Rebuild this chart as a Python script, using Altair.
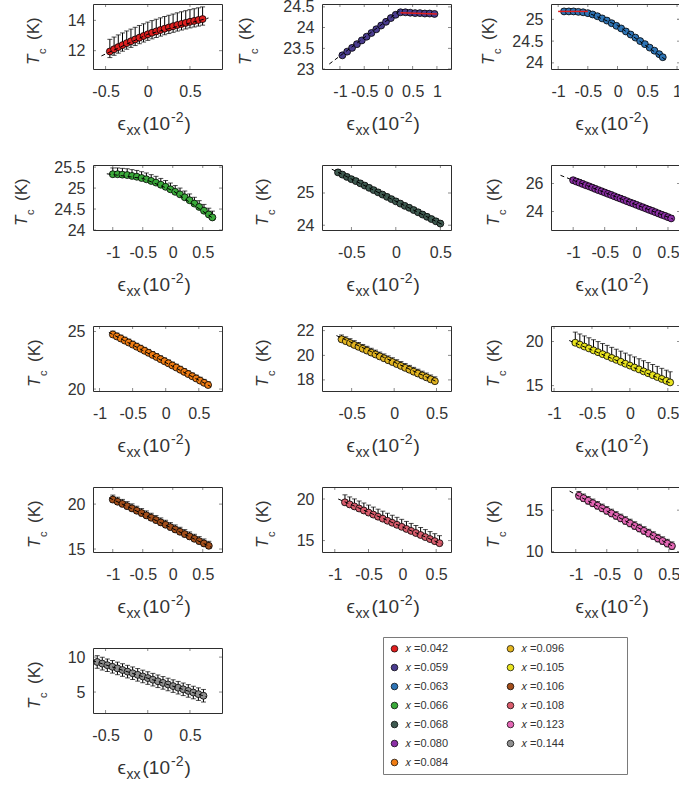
import altair as alt
import pandas as pd

FONT = "Liberation Sans"
INK = "#333333"
FRAME = "#2e2e2e"
PW, PH = 129, 65

doping = ["0.042", "0.059", "0.063", "0.066", "0.068", "0.080", "0.084",
          "0.096", "0.105", "0.106", "0.108", "0.123", "0.144"]
dot_colors = ["#e01f1f", "#4a3c8e", "#2e74b5", "#3aaa3a", "#3e5a50", "#8b2fa5", "#f07c12",
              "#e3b520", "#e9e41e", "#a34e1a", "#d95c6c", "#e366b4", "#8f8f8f"]

# strain eps_xx (10^-2) and Tc (K) for each composition
strain_042 = [-0.45, -0.40, -0.35, -0.30, -0.25, -0.20, -0.15, -0.10, -0.05, 0.00, 0.05, 0.10,
              0.15, 0.20, 0.25, 0.30, 0.35, 0.40, 0.45, 0.50, 0.55, 0.60, 0.65]
tc_042 = [11.95, 12.10, 12.24, 12.37, 12.50, 12.62, 12.74, 12.86, 12.97, 13.08, 13.18, 13.27,
          13.36, 13.45, 13.53, 13.61, 13.69, 13.76, 13.83, 13.90, 13.96, 14.02, 14.08]
fit_strain_042 = [-0.55, 0.00, 0.72]
fit_tc_042 = [11.66, 13.08, 14.15]

strain_059 = [-0.95, -0.85, -0.75, -0.65, -0.55, -0.45, -0.35, -0.25, -0.15, -0.05, 0.05, 0.15,
              0.25, 0.35, 0.45, 0.55, 0.65, 0.75, 0.85, 0.95]
tc_059 = [23.33, 23.42, 23.51, 23.60, 23.69, 23.78, 23.87, 23.96, 24.05, 24.14, 24.23, 24.31,
          24.37, 24.37, 24.36, 24.35, 24.35, 24.34, 24.34, 24.33]
fit_strain_059 = [-1.22, 0.25]
fit_tc_059 = [23.12, 24.42]
flat_strain_059 = [0.25, 1.00]
flat_tc_059 = [24.36, 24.33]

strain_063 = [-0.90, -0.82, -0.74, -0.66, -0.58, -0.50, -0.42, -0.34, -0.26, -0.18, -0.10, -0.02,
              0.06, 0.14, 0.22, 0.30, 0.38, 0.46, 0.54, 0.62, 0.70, 0.76]
tc_063 = [25.18, 25.18, 25.18, 25.17, 25.16, 25.14, 25.11, 25.07, 25.02, 24.97, 24.91, 24.85,
          24.79, 24.72, 24.65, 24.58, 24.50, 24.43, 24.35, 24.28, 24.20, 24.13]
fit_strain_063 = [-0.45, 0.00, 0.80]
fit_tc_063 = [25.12, 24.86, 24.08]
flat_strain_063 = [-1.00, -0.50]
flat_tc_063 = [25.18, 25.18]

strain_066 = [-1.00, -0.92, -0.84, -0.76, -0.68, -0.60, -0.52, -0.44, -0.36, -0.28, -0.20, -0.12,
              -0.04, 0.04, 0.12, 0.20, 0.28, 0.36, 0.44, 0.52, 0.60, 0.66]
tc_066 = [25.33, 25.33, 25.32, 25.31, 25.29, 25.27, 25.24, 25.21, 25.17, 25.13, 25.08, 25.03,
          24.97, 24.91, 24.85, 24.78, 24.71, 24.63, 24.55, 24.46, 24.37, 24.30]
fit_strain_066 = [-1.10, -0.50, 0.00, 0.70]
fit_tc_066 = [25.34, 25.23, 24.94, 24.25]

strain_068 = [-0.65, -0.60, -0.55, -0.50, -0.45, -0.40, -0.35, -0.30, -0.25, -0.20, -0.15, -0.10,
              -0.05, 0.00, 0.05, 0.10, 0.15, 0.20, 0.25, 0.30, 0.35, 0.40, 0.45, 0.50]
tc_068 = [25.64, 25.57, 25.50, 25.43, 25.37, 25.30, 25.23, 25.16, 25.09, 25.02, 24.95, 24.88,
          24.81, 24.74, 24.67, 24.60, 24.54, 24.47, 24.40, 24.33, 24.26, 24.19, 24.12, 24.05]
fit_strain_068 = [-0.72, 0.53]
fit_tc_068 = [25.74, 24.01]

strain_080 = [-1.00, -0.95, -0.90, -0.85, -0.80, -0.75, -0.70, -0.65, -0.60, -0.55, -0.50, -0.45,
              -0.40, -0.35, -0.30, -0.25, -0.20, -0.15, -0.10, -0.05, 0.00, 0.05, 0.10, 0.15,
              0.20, 0.25, 0.30, 0.35, 0.40, 0.45, 0.50, 0.55]
tc_080 = [26.22, 26.13, 26.05, 25.96, 25.87, 25.79, 25.70, 25.61, 25.52, 25.44, 25.35, 25.26,
          25.18, 25.09, 25.00, 24.92, 24.83, 24.74, 24.65, 24.57, 24.48, 24.39, 24.31, 24.22,
          24.13, 24.05, 23.96, 23.87, 23.78, 23.70, 23.61, 23.52]
fit_strain_080 = [-1.20, 0.58]
fit_tc_080 = [26.57, 23.47]

strain_084 = [-0.80, -0.74, -0.68, -0.62, -0.56, -0.50, -0.44, -0.38, -0.32, -0.26, -0.20, -0.14,
              -0.08, -0.02, 0.04, 0.10, 0.16, 0.22, 0.28, 0.34, 0.40, 0.46, 0.52, 0.58, 0.64]
tc_084 = [24.75, 24.58, 24.40, 24.22, 24.05, 23.87, 23.69, 23.51, 23.33, 23.15, 22.97, 22.79,
          22.60, 22.42, 22.24, 22.05, 21.87, 21.68, 21.49, 21.30, 21.11, 20.92, 20.73, 20.54, 20.35]
fit_strain_084 = [-0.86, 0.68]
fit_tc_084 = [24.93, 20.22]

strain_096 = [-0.62, -0.57, -0.52, -0.47, -0.42, -0.37, -0.32, -0.27, -0.22, -0.17, -0.12, -0.07,
              -0.02, 0.03, 0.08, 0.13, 0.18, 0.23, 0.28, 0.33, 0.38, 0.43, 0.48]
tc_096 = [21.30, 21.15, 21.00, 20.84, 20.69, 20.53, 20.38, 20.22, 20.07, 19.91, 19.76, 19.60,
          19.45, 19.29, 19.14, 18.98, 18.83, 18.67, 18.52, 18.36, 18.21, 18.05, 17.90]
fit_strain_096 = [-0.68, 0.52]
fit_tc_096 = [21.60, 17.80]

strain_105 = [-0.72, -0.66, -0.60, -0.54, -0.48, -0.42, -0.36, -0.30, -0.24, -0.18, -0.12, -0.06,
              0.00, 0.06, 0.12, 0.18, 0.24, 0.30, 0.36, 0.42, 0.48, 0.53]
tc_105 = [19.85, 19.64, 19.42, 19.21, 18.99, 18.78, 18.56, 18.35, 18.13, 17.92, 17.70, 17.48,
          17.27, 17.05, 16.84, 16.62, 16.41, 16.19, 15.98, 15.76, 15.55, 15.37]
fit_strain_105 = [-0.80, 0.56]
fit_tc_105 = [20.10, 15.20]

strain_106 = [-1.00, -0.92, -0.84, -0.76, -0.68, -0.60, -0.52, -0.44, -0.36, -0.28, -0.20, -0.12,
              -0.04, 0.04, 0.12, 0.20, 0.28, 0.36, 0.44, 0.52, 0.60]
tc_106 = [20.50, 20.26, 20.02, 19.77, 19.52, 19.26, 19.00, 18.74, 18.48, 18.22, 17.96, 17.70,
          17.44, 17.18, 16.92, 16.66, 16.40, 16.14, 15.88, 15.62, 15.36]
fit_strain_106 = [-1.06, 0.64]
fit_tc_106 = [20.70, 15.20]

strain_108 = [-0.85, -0.78, -0.71, -0.64, -0.57, -0.50, -0.43, -0.36, -0.29, -0.22, -0.15, -0.08,
              -0.01, 0.06, 0.13, 0.20, 0.27, 0.34, 0.41, 0.48, 0.55]
tc_108 = [19.60, 19.35, 19.11, 18.86, 18.62, 18.37, 18.13, 17.88, 17.64, 17.39, 17.15, 16.90,
          16.66, 16.41, 16.17, 15.92, 15.68, 15.43, 15.19, 14.94, 14.70]
fit_strain_108 = [-0.95, 0.58]
fit_tc_108 = [20.00, 14.60]

strain_123 = [-0.950, -0.875, -0.800, -0.725, -0.650, -0.575, -0.500, -0.425, -0.350, -0.275,
              -0.200, -0.125, -0.050, 0.025, 0.100, 0.175, 0.250, 0.325, 0.400, 0.475, 0.550]
tc_123 = [16.75, 16.45, 16.14, 15.84, 15.54, 15.23, 14.93, 14.62, 14.32, 14.02, 13.71, 13.41,
          13.10, 12.80, 12.50, 12.19, 11.89, 11.58, 11.28, 10.98, 10.67]
fit_strain_123 = [-1.10, 0.60]
fit_tc_123 = [17.30, 10.50]

strain_144 = [-0.60, -0.54, -0.48, -0.42, -0.36, -0.30, -0.24, -0.18, -0.12, -0.06, 0.00, 0.06,
              0.12, 0.18, 0.24, 0.30, 0.36, 0.42, 0.48, 0.54, 0.60, 0.66]
tc_144 = [9.30, 9.07, 8.84, 8.61, 8.38, 8.15, 7.92, 7.69, 7.46, 7.23, 7.00, 6.77,
          6.54, 6.31, 6.08, 5.85, 5.62, 5.39, 5.16, 4.93, 4.70, 4.47]
fit_strain_144 = [-0.66, 0.70]
fit_tc_144 = [9.50, 4.30]

# error bar half-widths (K), above and below each point
err_up = [0.80, 0.05, 0.05, 0.15, 0.08, 0.20, 0.30, 0.35, 1.20, 0.50, 0.90, 0.50, 0.90]
err_dn = [0.40, 0.05, 0.03, 0.03, 0.05, 0.10, 0.20, 0.20, 0.20, 0.30, 0.30, 0.40, 0.90]

# axis limits and tick values of every panel
strain_lim = [[-0.65, 0.88], [-1.37, 1.29], [-1.12, 1.05], [-1.33, 0.82], [-0.83, 0.62],
              [-1.35, 0.69], [-1.10, 0.85], [-0.85, 0.67], [-1.04, 0.66], [-1.33, 0.82],
              [-1.19, 0.72], [-1.40, 0.68], [-0.65, 0.88]]
tc_lim = [[10.8, 15.07], [23.0, 24.57], [23.86, 25.35], [24.0, 25.55], [23.85, 25.87],
          [22.7, 27.3], [19.83, 25.49], [17.1, 22.38], [14.4, 21.74], [14.67, 21.9],
          [13.64, 21.44], [9.95, 17.8], [2.0, 11.3]]
strain_ticks = [[-0.5, 0, 0.5], [-1, -0.5, 0, 0.5, 1], [-1, -0.5, 0, 0.5, 1], [-1, -0.5, 0, 0.5],
                [-0.5, 0, 0.5], [-1, -0.5, 0, 0.5], [-1, -0.5, 0, 0.5], [-0.5, 0, 0.5],
                [-1, -0.5, 0, 0.5], [-1, -0.5, 0, 0.5], [-1, -0.5, 0, 0.5], [-1, -0.5, 0, 0.5],
                [-0.5, 0, 0.5]]
tc_ticks = [[12, 14], [23, 23.5, 24, 24.5], [24, 24.5, 25], [24, 24.5, 25, 25.5], [24, 25],
            [24, 26], [20, 25], [18, 20, 22], [15, 20], [15, 20], [15, 20], [10, 15], [5, 10]]
# horizontal position of the y-title baseline, left of each plot frame
ytitle_x = [-54, -71, -57, -66, -54, -52, -53, -54, -52, -53, -54, -52, -53]

STRAIN = [strain_042, strain_059, strain_063, strain_066, strain_068, strain_080, strain_084,
          strain_096, strain_105, strain_106, strain_108, strain_123, strain_144]
TC = [tc_042, tc_059, tc_063, tc_066, tc_068, tc_080, tc_084,
      tc_096, tc_105, tc_106, tc_108, tc_123, tc_144]
FIT_STRAIN = [fit_strain_042, fit_strain_059, fit_strain_063, fit_strain_066, fit_strain_068,
              fit_strain_080, fit_strain_084, fit_strain_096, fit_strain_105, fit_strain_106,
              fit_strain_108, fit_strain_123, fit_strain_144]
FIT_TC = [fit_tc_042, fit_tc_059, fit_tc_063, fit_tc_066, fit_tc_068, fit_tc_080, fit_tc_084,
          fit_tc_096, fit_tc_105, fit_tc_106, fit_tc_108, fit_tc_123, fit_tc_144]
FLAT = {1: (flat_strain_059, flat_tc_059), 2: (flat_strain_063, flat_tc_063)}

# legend entries run down the first column, then the second
color_scale = alt.Scale(domain=doping, range=dot_colors)
# blank braille cells keep each legend column wide (whitespace would be trimmed)
LEGEND_FILL = "\u2800" * 7

ONE = pd.DataFrame({"k": [0]})


def text_piece(s, x, y, size, angle=0, italic=False):
    kw = dict(text=s, font=FONT, fontSize=size, color=INK, align="left", baseline="alphabetic")
    if angle:
        kw["angle"] = angle
    if italic:
        kw["fontStyle"] = "italic"
    return alt.Chart(ONE).mark_text(**kw).encode(x=alt.value(x), y=alt.value(y))


def titles(i):
    yx = ytitle_x[i]
    cx = PW / 2
    by = PH + 61
    return [
        # T_c (K), reading upwards
        text_piece("T", yx, 61, 17, angle=270, italic=True),
        text_piece("c", yx + 7, 50, 11, angle=270),
        text_piece("(K)", yx, 36, 17, angle=270),
        # eps_xx (10^-2)
        text_piece("\u03f5", cx - 40, by, 19),
        text_piece("xx", cx - 31, by + 5, 14),
        text_piece("(10", cx - 15, by, 19),
        text_piece("-2", cx + 13.5, by - 8, 14),
        text_piece(")", cx + 27, by, 19),
    ]


def panel(i):
    key = doping[i]
    df = pd.DataFrame({"strain": STRAIN[i], "tc": TC[i]})
    df["doping"] = key
    df["hi"] = df["tc"] + err_up[i]
    df["lo"] = df["tc"] - err_dn[i]
    fit = pd.DataFrame({"strain": FIT_STRAIN[i], "tc": FIT_TC[i]})
    xt = pd.DataFrame({"v": strain_ticks[i]})
    yt = pd.DataFrame({"v": tc_ticks[i]})

    sx = alt.Scale(domain=strain_lim[i], nice=False, zero=False)
    sy = alt.Scale(domain=tc_lim[i], nice=False, zero=False)
    ax = alt.Axis(values=strain_ticks[i], title=None, labelExpr="'' + datum.value",
                  labelOverlap=False, labelFlush=False, labelPadding=14)
    ay = alt.Axis(values=tc_ticks[i], title=None, labelExpr="'' + datum.value",
                  labelOverlap=False, labelPadding=8)

    def X(f):
        return alt.X(f, type="quantitative", scale=sx, axis=ax)

    def Y(f):
        return alt.Y(f, type="quantitative", scale=sy, axis=ay)

    tick_style = dict(color=FRAME, thickness=0.8, size=6, clip=True)
    bar_style = dict(color="black", size=5, thickness=1, clip=True)
    layers = [
        alt.Chart(xt).mark_tick(orient="vertical", **tick_style).encode(x=X("v"), y=alt.value(0)),
        alt.Chart(xt).mark_tick(orient="vertical", **tick_style).encode(x=X("v"), y=alt.value(PH)),
        alt.Chart(yt).mark_tick(orient="horizontal", **tick_style).encode(y=Y("v"), x=alt.value(0)),
        alt.Chart(yt).mark_tick(orient="horizontal", **tick_style).encode(y=Y("v"), x=alt.value(PW)),
        alt.Chart(df).mark_rule(color="black", strokeWidth=1, clip=True).encode(
            x=X("strain"), y=Y("lo"), y2="hi"),
        alt.Chart(df).mark_tick(orient="horizontal", **bar_style).encode(x=X("strain"), y=Y("hi")),
        alt.Chart(df).mark_tick(orient="horizontal", **bar_style).encode(x=X("strain"), y=Y("lo")),
    ]
    if i == len(doping) - 1:
        legend = alt.Legend(
            orient="none", legendX=290, legendY=-11, columns=2, title=None,
            labelExpr="'\U0001d465 =' + datum.label + '" + LEGEND_FILL + "'",
            labelFont=FONT, labelFontSize=11, labelColor=INK, labelOffset=5,
            symbolType="circle", symbolSize=45, symbolStrokeColor="black",
            symbolStrokeWidth=0.7, symbolOpacity=1, rowPadding=7, columnPadding=0,
            padding=6, strokeColor="#7a7a7a", fillColor="white")
    else:
        legend = None
    layers.append(
        alt.Chart(df).mark_point(filled=True, size=48, stroke="black", strokeWidth=0.8,
                                 opacity=1, clip=True).encode(
            x=X("strain"), y=Y("tc"),
            color=alt.Color("doping:N", scale=color_scale, legend=legend)))
    layers.append(
        alt.Chart(fit).mark_line(color="black", strokeWidth=1, strokeDash=[4, 3],
                                 clip=True).encode(x=X("strain"), y=Y("tc")))
    if i in FLAT:
        fx, fy = FLAT[i]
        flat = pd.DataFrame({"strain": fx, "tc": fy})
        layers.append(
            alt.Chart(flat).mark_line(color="#e01f1f", strokeWidth=1.5, clip=True).encode(
                x=X("strain"), y=Y("tc")))
    layers += titles(i)
    return alt.layer(*layers).properties(width=PW, height=PH)


chart = alt.concat(
    *[panel(i) for i in range(len(doping))],
    columns=3, spacing={"row": 96, "column": 100}, bounds="flush",
).resolve_scale(
    color="independent",
).resolve_legend(
    color="independent",
).properties(
    autosize=alt.AutoSizeParams(type="none"),
    padding={"left": 93, "top": 4, "right": 586, "bottom": 781},
).configure_view(
    stroke=FRAME, strokeWidth=1,
).configure_axis(
    labelFont=FONT, labelFontSize=16, labelColor=INK,
    domain=False, ticks=False, grid=False,
)

chart.save("out.html", embed_options={"renderer": "svg", "actions": False})
